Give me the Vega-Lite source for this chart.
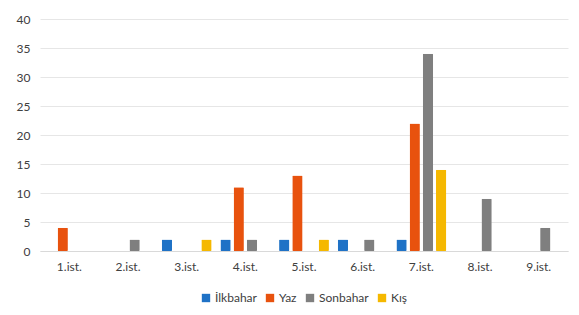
{
  "$schema": "https://vega.github.io/schema/vega-lite/v6.json",
  "width": 528,
  "height": 232,
  "autosize": {"type": "none"},
  "padding": {"left": 40, "top": 19, "right": 11, "bottom": 64},
  "background": "white",
  "data": {
    "values": [
      {"ist": "1.ist.", "mevsim": "İlkbahar", "deger": 0},
      {"ist": "1.ist.", "mevsim": "Yaz", "deger": 4},
      {"ist": "1.ist.", "mevsim": "Sonbahar", "deger": 0},
      {"ist": "1.ist.", "mevsim": "Kış", "deger": 0},
      {"ist": "2.ist.", "mevsim": "İlkbahar", "deger": 0},
      {"ist": "2.ist.", "mevsim": "Yaz", "deger": 0},
      {"ist": "2.ist.", "mevsim": "Sonbahar", "deger": 2},
      {"ist": "2.ist.", "mevsim": "Kış", "deger": 0},
      {"ist": "3.ist.", "mevsim": "İlkbahar", "deger": 2},
      {"ist": "3.ist.", "mevsim": "Yaz", "deger": 0},
      {"ist": "3.ist.", "mevsim": "Sonbahar", "deger": 0},
      {"ist": "3.ist.", "mevsim": "Kış", "deger": 2},
      {"ist": "4.ist.", "mevsim": "İlkbahar", "deger": 2},
      {"ist": "4.ist.", "mevsim": "Yaz", "deger": 11},
      {"ist": "4.ist.", "mevsim": "Sonbahar", "deger": 2},
      {"ist": "4.ist.", "mevsim": "Kış", "deger": 0},
      {"ist": "5.ist.", "mevsim": "İlkbahar", "deger": 2},
      {"ist": "5.ist.", "mevsim": "Yaz", "deger": 13},
      {"ist": "5.ist.", "mevsim": "Sonbahar", "deger": 0},
      {"ist": "5.ist.", "mevsim": "Kış", "deger": 2},
      {"ist": "6.ist.", "mevsim": "İlkbahar", "deger": 2},
      {"ist": "6.ist.", "mevsim": "Yaz", "deger": 0},
      {"ist": "6.ist.", "mevsim": "Sonbahar", "deger": 2},
      {"ist": "6.ist.", "mevsim": "Kış", "deger": 0},
      {"ist": "7.ist.", "mevsim": "İlkbahar", "deger": 2},
      {"ist": "7.ist.", "mevsim": "Yaz", "deger": 22},
      {"ist": "7.ist.", "mevsim": "Sonbahar", "deger": 34},
      {"ist": "7.ist.", "mevsim": "Kış", "deger": 14},
      {"ist": "8.ist.", "mevsim": "İlkbahar", "deger": 0},
      {"ist": "8.ist.", "mevsim": "Yaz", "deger": 0},
      {"ist": "8.ist.", "mevsim": "Sonbahar", "deger": 9},
      {"ist": "8.ist.", "mevsim": "Kış", "deger": 0},
      {"ist": "9.ist.", "mevsim": "İlkbahar", "deger": 0},
      {"ist": "9.ist.", "mevsim": "Yaz", "deger": 0},
      {"ist": "9.ist.", "mevsim": "Sonbahar", "deger": 4},
      {"ist": "9.ist.", "mevsim": "Kış", "deger": 0}
    ]
  },
  "mark": {"type": "bar", "cornerRadius": 1},
  "encoding": {
    "x": {
      "field": "ist", "type": "nominal", "sort": null,
      "scale": {"paddingInner": 0.15, "paddingOuter": 0.075},
      "axis": {"title": null, "labelAngle": 0, "ticks": false, "domainColor": "#d9d9d9", "labelPadding": 10, "labelFontSize": 12, "labelColor": "#404040", "labelFont": "Lato"}
    },
    "xOffset": {
      "field": "mevsim", "type": "nominal", "sort": ["İlkbahar", "Yaz", "Sonbahar", "Kış"],
      "scale": {"paddingInner": 0.22, "paddingOuter": 0}
    },
    "y": {
      "field": "deger", "type": "quantitative",
      "scale": {"domain": [0, 40], "nice": false},
      "axis": {"title": null, "values": [0,5,10,15,20,25,30,35,40], "labelOverlap": false, "domain": false, "ticks": false, "labelPadding": 10, "gridColor": "#e6e6e6", "labelFontSize": 12, "labelColor": "#404040", "labelFont": "Lato"}
    },
    "color": {
      "field": "mevsim", "type": "nominal", "sort": ["İlkbahar", "Yaz", "Sonbahar", "Kış"],
      "scale": {"domain": ["İlkbahar", "Yaz", "Sonbahar", "Kış"], "range": ["#1f72c6", "#e8520e", "#7f7f7f", "#f5b800"]},
      "legend": {"title": null, "orient": "none", "legendX": 160, "legendY": 273, "direction": "horizontal", "symbolType": "square", "symbolSize": 70, "labelFontSize": 12, "labelColor": "#404040", "labelFont": "Lato", "columnPadding": 7, "labelOffset": 3, "symbolStrokeWidth": 0}
    }
  },
  "config": {"view": {"stroke": null}}
}
